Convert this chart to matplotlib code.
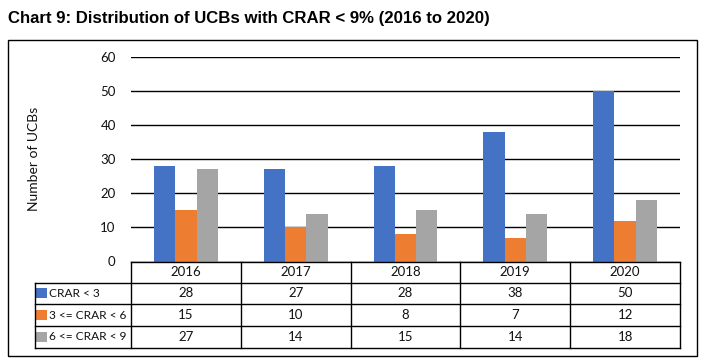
import numpy as np
import matplotlib.pyplot as plt
from matplotlib.patches import Rectangle

plt.rcParams['font.family'] = ['Lato', 'DejaVu Sans']

years = ['2016', '2017', '2018', '2019', '2020']
series_names = ['CRAR < 3', '3 <= CRAR < 6', '6 <= CRAR < 9']
crar_lt3 = [28, 27, 28, 38, 50]
crar_3_6 = [15, 10, 8, 7, 12]
crar_6_9 = [27, 14, 15, 14, 18]
series = [crar_lt3, crar_3_6, crar_6_9]
colors = ['#4472C4', '#ED7D31', '#A5A5A5']

W, H = 704, 362
fig = plt.figure(figsize=(W / 100, H / 100), dpi=100, facecolor='white')

# pixel layout
AX_L, AX_R, AX_T, AX_B = 131, 680, 56.7, 261.5
ax = fig.add_axes([AX_L / W, 1 - AX_B / H, (AX_R - AX_L) / W, (AX_B - AX_T) / H])

x = np.arange(len(years))
bw = 0.194
for i, (vals, col) in enumerate(zip(series, colors)):
    ax.bar(x + (i - 1) * bw, vals, bw, color=col, zorder=3)

ax.set_xlim(-0.5, len(years) - 0.5)
ax.set_ylim(0, 60)
ax.set_yticks(range(0, 61, 10))
ax.yaxis.grid(True, color='black', lw=1, zorder=0)
ax.set_xticks([])
for s in ax.spines.values():
    s.set_visible(False)
ax.tick_params(axis='y', length=0, pad=11, labelsize=9.5, labelcolor='#111111')
ax.set_ylabel('Number of UCBs', fontsize=10, labelpad=0, color='#111111')
ax.yaxis.set_label_coords((40 - AX_L) / (AX_R - AX_L), 0.5)

# overlay in pixel coords for table + frame
ov = fig.add_axes([0, 0, 1, 1], zorder=5)
ov.set_xlim(0, W)
ov.set_ylim(H, 0)
ov.axis('off')
ov.patch.set_alpha(0)

ov.add_patch(Rectangle((8, 40), 689, 316, fill=False, ec='black', lw=1))
fig.text(8 / W, 1 - 19 / H, 'Chart 9: Distribution of UCBs with CRAR < 9% (2016 to 2020)',
         family='Liberation Sans', fontsize=12.1, fontweight='bold', va='center', ha='left')

col_w = (AX_R - AX_L) / len(years)
row_y = [262, 282.5, 304.3, 326, 348]
LEG_L = 34.5

# header row
ov.plot([AX_L, AX_R], [row_y[0], row_y[0]], color='black', lw=1)
for yy in row_y[1:]:
    ov.plot([LEG_L, AX_R], [yy, yy], color='black', lw=1)
ov.plot([LEG_L, LEG_L], [row_y[1], row_y[-1]], color='black', lw=1)
for j in range(len(years) + 1):
    xx = AX_L + j * col_w
    ov.plot([xx, xx], [row_y[0], row_y[-1]], color='black', lw=1)

for j, yr in enumerate(years):
    ov.text(AX_L + (j + 0.5) * col_w, (row_y[0] + row_y[1]) / 2, yr,
            ha='center', va='center', fontsize=9.5, color='#111111')

for i, (name, vals, col) in enumerate(zip(series_names, series, colors)):
    yc = (row_y[i + 1] + row_y[i + 2]) / 2
    ov.add_patch(Rectangle((36, yc - 5), 11, 10, color=col, lw=0))
    ov.text(49, yc, name, ha='left', va='center', fontsize=8.6, color='#111111')
    for j, v in enumerate(vals):
        ov.text(AX_L + (j + 0.5) * col_w, yc, str(v), ha='center', va='center',
                fontsize=9.5, color='#111111')

fig.savefig('out.png', dpi=100, facecolor='white')
